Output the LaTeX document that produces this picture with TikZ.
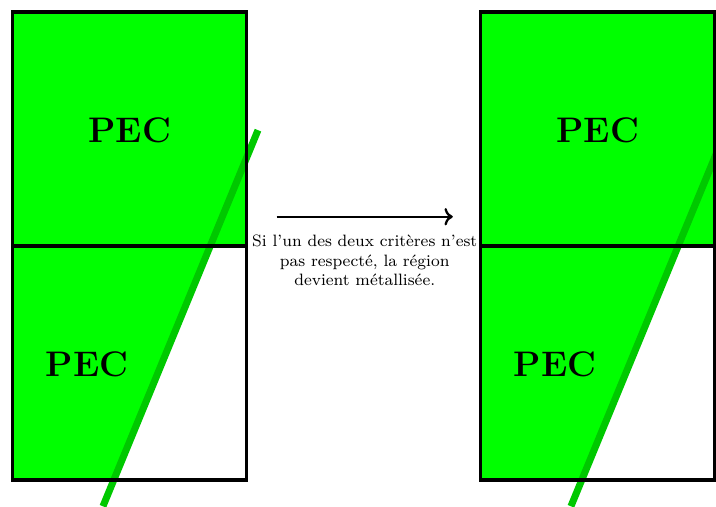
\documentclass[tikz,border=0pt]{standalone}
\usepackage{xcolor}
\usepackage{tikz}
\usetikzlibrary{arrows.meta, positioning, calc}
\definecolor{pecgreen}{RGB}{0,255,0}
\definecolor{cutgreen}{RGB}{0,200,0}

\begin{document}
\begin{tikzpicture}[
  cell/.style={draw=black, line width=1.5pt},
  pecfill/.style={fill=pecgreen},
  cut/.style={draw=cutgreen, line width=3.4pt},
  lbl/.style={font=\LARGE\bfseries},
  note/.style={font=\footnotesize, align=center, inner sep=1pt},
  arr/.style={->, line width=1.1pt},
]
  \useasboundingbox (-0.22,-0.445) rectangle (12.02,8.205);

  % left panel
  \fill[pecfill] (0,4) rectangle (4,8);
  \fill[pecfill] (0,0) -- (1.723,0) -- (3.371,4) -- (0,4) -- cycle;
  \draw[cut] (1.54,-0.45) -- (4.19,5.98);
  \draw[cell] (0,0) rectangle (4,8);
  \draw[cell] (0,4) -- (4,4);
  \node[lbl] (p1) at (2.0,5.98) {PEC};
  \node[lbl] (p2) at (1.27,1.97) {PEC};

  % arrow and note
  \coordinate (a1) at (4.51,4.50);
  \coordinate (a2) at (7.52,4.50);
  \draw[arr] (a1) -- (a2);
  \node[note, below=0.27cm of $(a1)!0.5!(a2)$] (n1)
    {Si l'un des deux critères n'est\\ pas respecté, la région\\ devient métallisée.};

  % right panel
  \begin{scope}[xshift=8cm]
    \fill[pecfill] (0,4) rectangle (4,8);
    \fill[pecfill] (0,0) -- (1.723,0) -- (3.371,4) -- (0,4) -- cycle;
    \draw[cut] (1.54,-0.45) -- (4.19,5.98);
    \draw[cell] (0,0) rectangle (4,8);
    \draw[cell] (0,4) -- (4,4);
    \node[lbl] (p3) at (2.0,5.98) {PEC};
    \node[lbl] (p4) at (1.27,1.97) {PEC};
  \end{scope}
\end{tikzpicture}
\end{document}
